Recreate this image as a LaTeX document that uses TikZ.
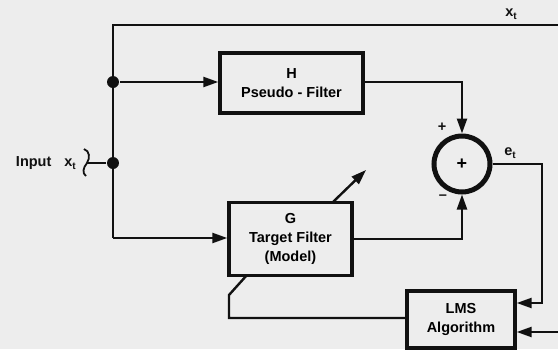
\documentclass[tikz,border=0pt]{standalone}
\usepackage{fontspec}
\setmainfont{Liberation Sans}
\usetikzlibrary{arrows.meta}
\definecolor{bgc}{HTML}{EDEDED}
\definecolor{ink}{HTML}{111111}
\begin{document}
\begin{tikzpicture}[x=1pt,y=-1pt,
  line width=2.4pt, draw=ink,
  >={Triangle[length=15pt,width=10pt]},
  blk/.style={draw=ink, line width=3.4pt, align=center, inner sep=0pt, font=\bfseries\fontsize{14.5}{19}\selectfont},
  lbl/.style={font=\bfseries\fontsize{14.5}{16}\selectfont, text=ink, inner sep=0pt},
  dotj/.style={circle, fill=ink, draw=none, minimum size=12pt, inner sep=0pt}]
\fill[bgc] (0,0) rectangle (558,349);
\useasboundingbox (0,0) rectangle (558,349);

% blocks
\node[blk, minimum width=143pt, minimum height=60pt] (H) at (291.5,83) {H\\Pseudo - Filter};
\node[blk, minimum width=123pt, minimum height=73pt] (G) at (290.5,239) {G\\Target Filter\\(Model)};
\node[blk, minimum width=108pt, minimum height=57pt] (L) at (461,319.5) {LMS\\Algorithm};
\node[circle, draw=ink, line width=5pt, minimum size=56pt, inner sep=0pt, font=\bfseries\fontsize{18}{18}\selectfont] (S) at (462,164) {+};

% junctions and corners
\node[dotj] (J1) at (113,82) {};
\node[dotj] (J2) at (113,163) {};
\coordinate (TL) at (113,25);
\coordinate (TR) at (558,25);
\coordinate (BL) at (113,238);
\coordinate (BR) at (558,332);

% input
\node[lbl, anchor=east] (In) at (77,163) {Input\hspace{13pt}x\raisebox{-0.45ex}{\bfseries\fontsize{10}{10}\selectfont t}};
\draw[line width=1.8pt] (84,149) .. controls (90,151) and (90,158) .. (87,163)
      .. controls (83,168) and (82,173) .. (86,176);
\coordinate (Br) at (87,163);
\draw (Br) -- (J2);

% feed lines
\draw (TR) -- (TL) -- (BL);
\draw[->] (J1) -- (H.west |- J1);
\draw[->] (BL) -- (G.west |- BL);

% outputs into summer
\draw[->] (H.east |- J1) -| (S.north);
\draw[->] (G.east |- 0,239) -| (S.south);
\node[lbl] (plus) at (442,127) {+};
\node[lbl] (minus) at (443,197) {–};

% error
\coordinate (E1) at (542,164);
\draw[->] (S.east) -- (E1) |- (L.east |- 0,303);
\node[lbl] (et) at (510,153) {e\raisebox{-0.45ex}{\bfseries\fontsize{10}{10}\selectfont t}};
\node[lbl] (xt) at (511,14) {x\raisebox{-0.45ex}{\bfseries\fontsize{10}{10}\selectfont t}};
\draw[->] (BR) -- (L.east |- BR);

% adaptation
\coordinate (A1) at (229,318);
\coordinate (A2) at (229,295);
\coordinate (A3) at (247,275);
\draw (L.west |- A1) -- (A1) -- (A2) -- (A3);
\coordinate (D1) at (333,202);
\coordinate (D2) at (366,170);
\draw[->] (D1) -- (D2);
\end{tikzpicture}
\end{document}
